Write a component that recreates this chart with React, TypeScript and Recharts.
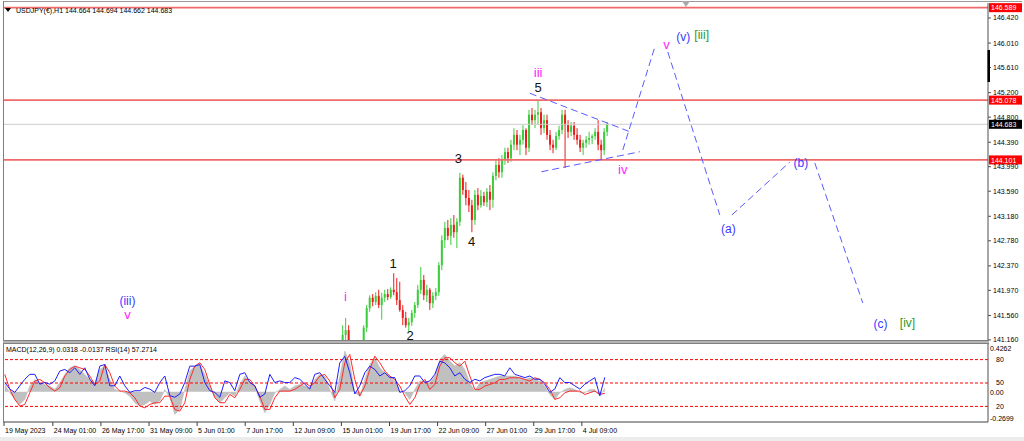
import React from "react";
import {
  ComposedChart,
  Bar,
  Line,
  Area,
  XAxis,
  YAxis,
  ReferenceLine,
  ReferenceDot,
} from "recharts";

const FONT = '"Liberation Sans", Arial, Helvetica, sans-serif';

// ---------- texts ----------
const symbolHeader = "USDJPY(€),H1  144.664 144.694 144.662 144.683";
const indicatorHeader = "MACD(12,26,9) 0.0318 -0.0137  RSI(14) 57.2714";

// ---------- time axis (bar index units, H1 bars) ----------
const timeDomain: [number, number] = [0, 1309.5];
const timeTickBars = [0, 65, 129, 193, 257, 321, 385, 449, 513, 577, 641, 705, 769];
const timeTickLabels = [
  "19 May 2023",
  "24 May 01:00",
  "26 May 17:00",
  "31 May 09:00",
  "5 Jun 01:00",
  "7 Jun 17:00",
  "12 Jun 09:00",
  "15 Jun 01:00",
  "19 Jun 17:00",
  "22 Jun 09:00",
  "27 Jun 01:00",
  "29 Jun 17:00",
  "4 Jul 09:00",
];

// ---------- candles ----------
const candleFirstBar = 450;
const candleBarStep = 4;
const candleOpen = [
  141.16, 141.24, 141.32, 141.03, 140.91, 140.87, 141.0, 141.13, 141.36, 141.68,
  141.85, 141.78, 141.88, 141.73, 141.85, 141.91, 141.86, 141.98, 141.94, 141.81,
  141.65, 141.52, 141.4, 141.45, 141.6, 141.73, 141.98, 142.14, 141.89, 141.98,
  141.76, 141.88, 141.94, 142.38, 142.79, 142.99, 142.86, 143.04, 142.92, 143.09,
  143.81, 143.61, 143.48, 143.36, 143.12, 143.53, 143.36, 143.51, 143.41, 143.58,
  143.45, 143.84, 144.02, 143.9, 144.1, 144.23, 144.13, 144.35, 144.51, 144.35,
  144.43, 144.59, 144.3, 144.84, 144.75, 144.84, 144.88, 144.62, 144.75, 144.51,
  144.35, 144.3, 144.49, 144.59, 144.84, 144.67, 144.56, 144.66, 144.51, 144.43,
  144.3, 144.38, 144.43, 144.46, 144.49, 144.56, 144.35, 144.26, 144.56,
];
const candleHigh = [
  141.4, 141.52, 141.4, 141.08, 141.0, 141.03, 141.16, 141.4, 141.73, 141.89,
  141.91, 141.94, 141.98, 141.93, 141.98, 141.99, 142.02, 142.25, 142.17, 142.11,
  141.73, 141.62, 141.52, 141.65, 141.78, 142.06, 142.35, 142.22, 142.06, 142.01,
  141.94, 142.01, 142.43, 142.87, 143.09, 143.12, 143.15, 143.2, 143.15, 143.89,
  143.86, 143.74, 143.61, 143.45, 143.61, 143.64, 143.61, 143.58, 143.64, 143.69,
  143.9, 144.1, 144.13, 144.18, 144.3, 144.3, 144.43, 144.62, 144.59, 144.51,
  144.67, 144.62, 144.92, 144.95, 144.92, 145.08, 144.95, 144.84, 144.84, 144.59,
  144.43, 144.56, 144.66, 144.92, 144.92, 144.75, 144.72, 144.72, 144.62, 144.51,
  144.43, 144.49, 144.56, 144.52, 144.62, 144.75, 144.43, 144.62, 144.72,
];
const candleLow = [
  141.0, 141.08, 141.0, 140.83, 140.75, 140.8, 140.91, 141.08, 141.29, 141.62,
  141.71, 141.73, 141.68, 141.49, 141.78, 141.81, 141.83, 141.89, 141.73, 141.62,
  141.4, 141.36, 141.29, 141.39, 141.52, 141.68, 141.91, 141.81, 141.78, 141.65,
  141.68, 141.81, 141.88, 142.3, 142.66, 142.79, 142.71, 142.83, 142.66, 143.02,
  143.53, 143.36, 143.25, 142.92, 143.04, 143.28, 143.32, 143.35, 143.33, 143.28,
  143.32, 143.77, 143.81, 143.81, 144.02, 144.05, 144.07, 144.26, 144.26, 144.18,
  144.35, 144.18, 144.23, 144.67, 144.62, 144.67, 144.51, 144.54, 144.43, 144.26,
  144.21, 144.26, 144.43, 144.52, 143.97, 144.46, 144.49, 144.43, 144.35, 144.23,
  144.18, 144.3, 144.35, 144.36, 144.43, 144.26, 144.1, 144.18, 144.49,
];
const candleClose = [
  141.24, 141.32, 141.08, 140.91, 140.87, 141.0, 141.13, 141.36, 141.68, 141.85,
  141.78, 141.88, 141.73, 141.85, 141.91, 141.86, 141.98, 141.94, 141.81, 141.65,
  141.52, 141.4, 141.45, 141.6, 141.73, 141.98, 142.14, 141.89, 141.98, 141.76,
  141.88, 141.94, 142.38, 142.79, 142.99, 142.86, 143.04, 142.92, 143.09, 143.81,
  143.61, 143.48, 143.36, 143.12, 143.53, 143.36, 143.51, 143.41, 143.58, 143.45,
  143.84, 144.02, 143.9, 144.1, 144.23, 144.13, 144.35, 144.51, 144.35, 144.43,
  144.59, 144.3, 144.84, 144.75, 144.84, 144.88, 144.62, 144.75, 144.51, 144.35,
  144.3, 144.49, 144.59, 144.84, 144.67, 144.56, 144.66, 144.51, 144.43, 144.3,
  144.38, 144.43, 144.46, 144.49, 144.56, 144.35, 144.26, 144.56, 144.683,
];

// ---------- price axis ----------
const priceDomain: [number, number] = [141.126, 146.665];
const priceTicks = [
  146.42, 146.01, 145.61, 145.2, 144.8, 144.39, 143.99, 143.59, 143.18, 142.78,
  142.37, 141.97, 141.56, 141.16,
];
const redLevels = [146.589, 145.078, 144.101];
const bidLevel = 144.683;

// ---------- wave drawing ----------
const triangleUpper = [
  { bar: 699.8, price: 145.19 },
  { bar: 832.8, price: 144.562 },
];
const triangleLower = [
  { bar: 715.3, price: 143.908 },
  { bar: 846.2, price: 144.235 },
];
const projectionSegments = [
  [
    { bar: 823.5, price: 144.263 },
    { bar: 866.1, price: 145.946 },
  ],
  [
    { bar: 883.4, price: 145.864 },
    { bar: 952.6, price: 143.201 },
  ],
  [
    { bar: 968.6, price: 143.201 },
    { bar: 1045.8, price: 144.067 },
  ],
  [
    { bar: 1079, price: 144.051 },
    { bar: 1142.9, price: 141.763 },
  ],
];

const BLUE = "#3a3aff";
const MAGENTA = "#ff22ff";
const GREEN = "#2a982a";
const BLACK = "#111111";

const waveLabels = [
  { text: "(iii)", bar: 164.3, price: 141.8, color: BLUE, size: 12 },
  { text: "v", bar: 164.3, price: 141.58, color: MAGENTA, size: 13 },
  { text: "i", bar: 454.5, price: 141.866, color: MAGENTA, size: 13 },
  { text: "1", bar: 518, price: 142.412, color: BLACK, size: 13 },
  { text: "2", bar: 540.3, price: 141.23, color: BLACK, size: 13 },
  { text: "3", bar: 604.6, price: 144.127, color: BLACK, size: 13 },
  { text: "4", bar: 622.2, price: 142.765, color: BLACK, size: 13 },
  { text: "5", bar: 710.8, price: 145.29, color: BLACK, size: 13 },
  { text: "iii", bar: 710.8, price: 145.535, color: MAGENTA, size: 13 },
  { text: "iv", bar: 823.4, price: 143.948, color: MAGENTA, size: 13 },
  { text: "v", bar: 881.7, price: 145.99, color: MAGENTA, size: 13 },
  { text: "(v)", bar: 904, price: 146.114, color: BLUE, size: 12 },
  { text: "[iii]", bar: 928.5, price: 146.142, color: GREEN, size: 12 },
  { text: "(a)", bar: 964, price: 142.966, color: BLUE, size: 12 },
  { text: "(b)", bar: 1060.4, price: 144.056, color: BLUE, size: 12 },
  { text: "(c)", bar: 1166.5, price: 141.42, color: BLUE, size: 12 },
  { text: "[iv]", bar: 1202.4, price: 141.44, color: GREEN, size: 12 },
];

// ---------- indicators (sampled every 5 px = 6.654 bars) ----------
const indFirstBar = 1.06;
const indBarStep = 6.654;
const macdDomain: [number, number] = [-0.2699, 0.4262];
const macdHist = [
  0.065, -0.009, -0.068, -0.113, -0.068, 0.051, 0.11, 0.08, 0.065, 0.051,
  0.021, 0.08, 0.155, 0.214, 0.229, 0.199, 0.155, 0.11, 0.08, 0.199,
  0.229, 0.11, 0.021, 0.006, -0.009, -0.039, -0.098, -0.128, -0.113, -0.083,
  -0.113, -0.083, 0.021, -0.054, -0.202, -0.158, 0.021, 0.185, 0.229, 0.244,
  0.155, 0.051, -0.054, -0.098, -0.054, -0.009, -0.039, 0.065, 0.14, 0.08,
  0.051, -0.083, -0.188, -0.113, -0.009, 0.021, 0.051, 0.021, 0.051, 0.065,
  0.051, 0.036, 0.11, 0.155, 0.14, 0.021, -0.083, 0.14, 0.363, 0.259,
  -0.009, -0.039, 0.11, 0.244, 0.304, 0.214, 0.17, 0.14, 0.095, 0.006,
  -0.009, -0.068, 0.021, 0.095, 0.095, 0.08, 0.14, 0.289, 0.333, 0.274,
  0.229, 0.259, 0.199, 0.08, 0.006, 0.08, 0.095, 0.11, 0.125, 0.14,
  0.14, 0.14, 0.14, 0.125, 0.11, 0.125, 0.11, 0.095, 0.051, -0.024,
  -0.068, -0.009, 0.021, 0.036, 0.021, -0.009, -0.009, 0.021, 0.021, -0.039,
  0.0318,
];
const macdSignal = [
  0.155, 0.021, -0.068, -0.128, -0.113, -0.009, 0.095, 0.11, 0.08, 0.036,
  0.006, 0.036, 0.14, 0.199, 0.229, 0.214, 0.199, 0.14, 0.065, 0.095,
  0.244, 0.17, 0.051, 0.006, 0.006, -0.009, -0.054, -0.128, -0.143, -0.113,
  -0.098, -0.098, -0.039, -0.039, -0.158, -0.173, -0.098, 0.11, 0.229, 0.259,
  0.199, 0.065, -0.054, -0.098, -0.098, -0.024, -0.054, 0.021, 0.11, 0.11,
  0.051, -0.039, -0.158, -0.158, -0.054, 0.006, 0.006, 0.006, 0.021, 0.051,
  0.08, 0.051, 0.08, 0.14, 0.155, 0.095, -0.054, 0.021, 0.259, 0.333,
  0.11, -0.039, 0.051, 0.199, 0.318, 0.259, 0.185, 0.14, 0.11, 0.051,
  -0.039, -0.113, -0.054, 0.065, 0.11, 0.021, 0.065, 0.229, 0.304, 0.304,
  0.259, 0.229, 0.274, 0.14, 0.021, 0.021, 0.051, 0.065, 0.08, 0.11,
  0.11, 0.125, 0.125, 0.125, 0.11, 0.095, 0.125, 0.11, 0.08, 0.021,
  -0.068, -0.054, -0.009, 0.006, 0.006, 0.006, -0.024, -0.009, 0.006, -0.024,
  -0.0137,
];
const rsiValues = [
  50.6, 42.2, 38.0, 46.4, 54.8, 61.1, 61.1, 48.5, 50.6, 48.5,
  52.7, 65.3, 67.4, 63.2, 69.5, 61.1, 69.5, 54.8, 46.4, 71.6,
  73.7, 46.4, 46.4, 59.0, 46.4, 38.0, 40.1, 40.1, 44.3, 42.2,
  38.0, 50.6, 59.0, 33.8, 31.7, 35.9, 50.6, 71.6, 71.6, 73.7,
  50.6, 40.1, 38.0, 31.7, 52.7, 50.6, 40.1, 61.1, 63.2, 50.6,
  46.4, 31.7, 35.9, 61.1, 50.6, 52.7, 50.6, 50.6, 56.9, 54.8,
  48.5, 42.2, 61.1, 63.2, 54.8, 46.4, 38.0, 75.8, 84.2, 63.2,
  35.9, 46.4, 63.2, 71.6, 67.4, 59.0, 63.2, 56.9, 56.9, 38.0,
  40.1, 46.4, 59.0, 59.0, 50.6, 52.7, 61.1, 77.9, 75.8, 69.5,
  59.0, 63.2, 54.8, 50.6, 54.8, 52.7, 56.9, 59.0, 61.1, 61.1,
  59.0, 69.5, 61.1, 59.0, 56.9, 59.0, 54.8, 54.8, 48.5, 38.0,
  42.2, 56.9, 50.6, 50.6, 46.4, 42.2, 48.5, 52.7, 56.9, 33.8,
  57.27,
];
const rsiLevels = [80, 50, 20];
const rsiTicks = [20, 50, 80];

// ---------- render helpers ----------
const CandleShape = (props: any) => {
  const { x, y, width, height, payload } = props;
  if (!payload || x == null || y == null || height == null) return null;
  const top0 = Math.min(y, y + height);
  const h0 = Math.abs(height);
  const range = payload.h - payload.l;
  const ppu = range > 0 ? h0 / range : 0;
  const yO = top0 + (payload.h - payload.o) * ppu;
  const yC = top0 + (payload.h - payload.c) * ppu;
  const up = payload.c >= payload.o;
  const color = up ? "#3ccc3c" : "#ec1c1c";
  const cx = x + width / 2;
  const bt = Math.min(yO, yC);
  const bh = Math.max(1, Math.abs(yO - yC));
  return (
    <g>
      <line x1={cx} x2={cx} y1={top0} y2={top0 + h0} stroke={color} strokeWidth={1} />
      <rect x={x} y={bt} width={width} height={bh} fill={color} />
    </g>
  );
};

const PriceTag = (props: any) => {
  const { viewBox, text, bg } = props;
  if (!viewBox) return null;
  const x = viewBox.x + viewBox.width + 1;
  const y = viewBox.y;
  return (
    <g>
      <rect x={x} y={y - 4.5} width={33} height={9} fill={bg} />
      <text x={x + 2} y={y + 2.6} fontSize={7} fill="#ffffff" fontFamily={FONT}>
        {text}
      </text>
    </g>
  );
};

const AxisNote = (props: any) => {
  const { viewBox, text, dy } = props;
  if (!viewBox) return null;
  return (
    <text
      x={viewBox.x + viewBox.width + 2}
      y={viewBox.y + dy}
      fontSize={7}
      fill="#000000"
      fontFamily={FONT}
    >
      {text}
    </text>
  );
};

const TimeTick = (props: any) => {
  const { x, y, payload } = props;
  const idx = timeTickBars.indexOf(payload.value);
  if (idx < 0) return null;
  return (
    <text x={x + 1} y={y + 7} fontSize={7} fill="#000000" fontFamily={FONT} textAnchor="start">
      {timeTickLabels[idx]}
    </text>
  );
};

export default function App() {
  const candles = candleOpen.map((o, i) => ({
    bar: candleFirstBar + i * candleBarStep,
    o,
    h: candleHigh[i],
    l: candleLow[i],
    c: candleClose[i],
  }));
  const ind = macdHist.map((hist, i) => ({
    bar: indFirstBar + i * indBarStep,
    hist,
    signal: macdSignal[i],
    rsi: rsiValues[i],
  }));

  return (
    <div
      style={{
        position: "absolute",
        left: 0,
        top: 0,
        width: 1024,
        height: 441,
        background: "#ffffff",
        overflow: "hidden",
        fontFamily: FONT,
      }}
    >
      <div style={{ position: "absolute", left: 0, top: 0 }}>
        <ComposedChart
          width={1024}
          height={343}
          data={candles}
          margin={{ top: 3, right: 0, bottom: 1, left: 4 }}
        >
          <XAxis type="number" dataKey="bar" domain={timeDomain} allowDataOverflow hide />
          <YAxis
            orientation="right"
            domain={priceDomain}
            allowDataOverflow
            ticks={priceTicks}
            interval={0}
            width={36}
            tickSize={3}
            tickMargin={2}
            tickFormatter={(v: number) => v.toFixed(3)}
            tick={{ fontSize: 7, fill: "#000000", fontFamily: FONT }}
            axisLine={{ stroke: "#505050" }}
            tickLine={{ stroke: "#505050" }}
          />
          <ReferenceLine
            y={bidLevel}
            stroke="#cccccc"
            strokeWidth={1}
            label={<PriceTag text={bidLevel.toFixed(3)} bg="#000000" />}
          />
          {redLevels.map((v) => (
            <ReferenceLine
              key={"lvl" + v}
              y={v}
              stroke="#f06a6a"
              strokeWidth={1.6}
              label={<PriceTag text={v.toFixed(3)} bg="#ff0000" />}
            />
          ))}
          <Bar
            dataKey={(d: any) => [d.l, d.h]}
            shape={<CandleShape />}
            barSize={2}
            isAnimationActive={false}
          />
          <ReferenceLine
            segment={[
              { x: triangleUpper[0].bar, y: triangleUpper[0].price },
              { x: triangleUpper[1].bar, y: triangleUpper[1].price },
            ]}
            stroke="#5a5aff"
            strokeWidth={1}
            strokeDasharray="7 4"
            ifOverflow="visible"
          />
          <ReferenceLine
            segment={[
              { x: triangleLower[0].bar, y: triangleLower[0].price },
              { x: triangleLower[1].bar, y: triangleLower[1].price },
            ]}
            stroke="#5a5aff"
            strokeWidth={1}
            strokeDasharray="7 4"
            ifOverflow="visible"
          />
          {projectionSegments.map((s, i) => (
            <ReferenceLine
              key={"seg" + i}
              segment={[
                { x: s[0].bar, y: s[0].price },
                { x: s[1].bar, y: s[1].price },
              ]}
              stroke="#5a5aff"
              strokeWidth={1}
              strokeDasharray="7 4"
              ifOverflow="visible"
            />
          ))}
          {waveLabels.map((w, i) => (
            <ReferenceDot
              key={"wl" + i}
              x={w.bar}
              y={w.price}
              r={1}
              ifOverflow="visible"
              shape={(p: any) => (
                <text
                  x={p.cx}
                  y={p.cy}
                  fill={w.color}
                  fontSize={w.size}
                  fontFamily={FONT}
                  textAnchor="middle"
                  dominantBaseline="central"
                >
                  {w.text}
                </text>
              )}
            />
          ))}
        </ComposedChart>
      </div>

      <div style={{ position: "absolute", left: 0, top: 343 }}>
        <ComposedChart
          width={1024}
          height={98}
          data={ind}
          margin={{ top: 1, right: 0, bottom: 0, left: 4 }}
        >
          <XAxis
            type="number"
            dataKey="bar"
            domain={timeDomain}
            allowDataOverflow
            ticks={timeTickBars}
            interval={0}
            tickSize={4}
            tickMargin={0}
            height={19}
            axisLine={{ stroke: "#404040" }}
            tickLine={{ stroke: "#404040" }}
            tick={<TimeTick />}
          />
          <YAxis yAxisId="macd" domain={macdDomain} allowDataOverflow hide />
          <YAxis
            yAxisId="rsi"
            orientation="right"
            domain={[0, 100]}
            ticks={rsiTicks}
            interval={0}
            width={36}
            tickLine={false}
            tickMargin={2}
            axisLine={{ stroke: "#505050" }}
            tick={{ fontSize: 7, fill: "#000000", fontFamily: FONT }}
          />
          <Area
            yAxisId="macd"
            dataKey="hist"
            type="linear"
            fill="#c0c0c0"
            fillOpacity={1}
            stroke="#b8b8b8"
            strokeWidth={0.5}
            isAnimationActive={false}
          />
          {rsiLevels.map((v) => (
            <ReferenceLine
              key={"rl" + v}
              yAxisId="rsi"
              y={v}
              stroke="#ff0000"
              strokeWidth={1}
              strokeDasharray="3 2"
            />
          ))}
          <Line
            yAxisId="macd"
            dataKey="signal"
            type="linear"
            stroke="#ff2a2a"
            strokeWidth={1}
            dot={false}
            isAnimationActive={false}
          />
          <Line
            yAxisId="rsi"
            dataKey="rsi"
            type="linear"
            stroke="#1f1fff"
            strokeWidth={1}
            dot={false}
            isAnimationActive={false}
          />
          <ReferenceLine
            yAxisId="macd"
            y={macdDomain[1]}
            stroke="none"
            ifOverflow="visible"
            label={<AxisNote text="0.4262" dy={6.5} />}
          />
          <ReferenceLine
            yAxisId="macd"
            y={0}
            stroke="none"
            ifOverflow="visible"
            label={<AxisNote text="0.00" dy={3.5} />}
          />
          <ReferenceLine
            yAxisId="macd"
            y={macdDomain[0]}
            stroke="none"
            ifOverflow="visible"
            label={<AxisNote text="-0.2699" dy={-1.5} />}
          />
        </ComposedChart>
      </div>

      <svg
        width={1024}
        height={441}
        style={{ position: "absolute", left: 0, top: 0, pointerEvents: "none" }}
      >
        <line x1={3} x2={1022} y1={1.5} y2={1.5} stroke="#9a9a9a" strokeWidth={1} />
        <line x1={3.5} x2={3.5} y1={1} y2={423} stroke="#808080" strokeWidth={1} />
        <rect x={3} y={340.5} width={986} height={3} fill="#b4b4b4" />
        <line x1={3} x2={989} y1={340.5} y2={340.5} stroke="#808080" strokeWidth={1} />
        <line x1={3} x2={989} y1={343.5} y2={343.5} stroke="#808080" strokeWidth={1} />
        <rect x={0} y={437} width={1024} height={4} fill="#ececec" />
        <rect x={987.5} y={50} width={2.5} height={32} fill="#000000" />
        <polygon points="682,1 690,1 686,7" fill="#a8a8a8" />
        <polygon points="5,8 11,8 8,12" fill="#000000" />
        <text x={16} y={12.5} fontSize={7} fill="#000000" fontFamily={FONT}>
          {symbolHeader}
        </text>
        <text x={6} y={352} fontSize={7} fill="#000000" fontFamily={FONT}>
          {indicatorHeader}
        </text>
      </svg>
    </div>
  );
}
